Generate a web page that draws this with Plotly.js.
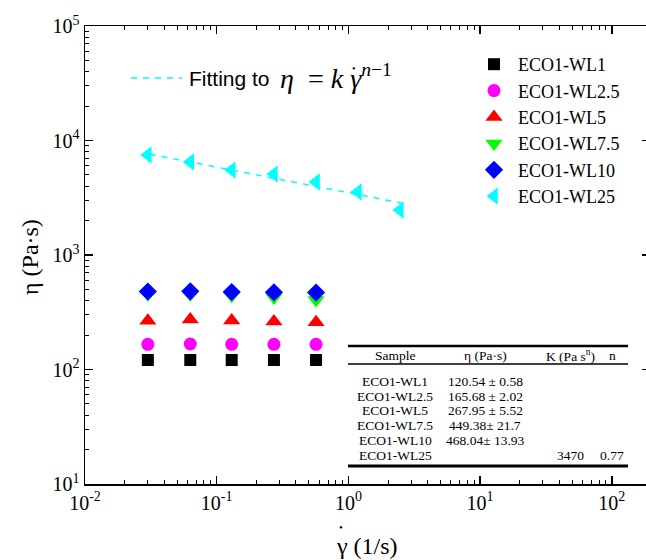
<!DOCTYPE html>
<html><head><meta charset="utf-8">
<script src="https://cdn.plot.ly/plotly-3.0.1.min.js"></script>
<style>html,body{margin:0;padding:0;overflow:hidden;background:#fff}</style>
</head><body><div id="chart" style="width:660px;height:560px"></div>
<script>
// ---- data ----
const seriesNames = ["ECO1-WL1", "ECO1-WL2.5", "ECO1-WL5", "ECO1-WL7.5", "ECO1-WL10", "ECO1-WL25"];
const shearRate = [0.030, 0.063, 0.130, 0.272, 0.568];
const shearRateWL25 = [0.030, 0.063, 0.130, 0.272, 0.568, 1.18, 2.46];
const etaWL1 = [121, 121, 121, 121, 121];
const etaWL2_5 = [166, 167, 166, 166, 166];
const etaWL5 = [267, 273, 268, 262, 259];
const etaWL7_5 = [455, 452, 440, 425, 405];
const etaWL10 = [480, 482, 475, 473, 470];
const etaWL25 = [7470, 6490, 5520, 5090, 4340, 3550, 2470];
const fitX = [0.031, 2.8];
const fitY = [7600, 2780];

const xTickVals = [0.01, 0.1, 1, 10, 100];
const xTickText = ["10<sup>-2</sup>", "10<sup>-1</sup>", "10<sup>0</sup>", "10<sup>1</sup>", "10<sup>2</sup>"];
const yTickVals = [10, 100, 1000, 10000, 100000];
const yTickText = ["10<sup>1</sup>", "10<sup>2</sup>", "10<sup>3</sup>", "10<sup>4</sup>", "10<sup>5</sup>"];

const tableHeader = ["Sample", "η (Pa·s)", "K (Pa s<sup>n</sup>)", "n"];
const tableSample = ["ECO1-WL1", "ECO1-WL2.5", "ECO1-WL5", "ECO1-WL7.5", "ECO1-WL10", "ECO1-WL25"];
const tableEta = ["120.54 ± 0.58", "165.68 ± 2.02", "267.95 ± 5.52", "449.38± 21.7", "468.04± 13.93", ""];
const tableK = ["", "", "", "", "", "3470"];
const tableN = ["", "", "", "", "", "0.77"];

// ---- layout helpers (pixel -> paper) ----
const L = 85, R = 650, T = 26, B = 484;
const px = x => (x - L) / (R - L);
const py = y => (B - y) / (B - T);
const SERIF = "Liberation Serif, Times New Roman, serif";

function minorVals(lo, hi) {
  const v = [];
  for (let e = lo; e < hi; e++) for (let m = 2; m <= 9; m++) v.push(m * Math.pow(10, e));
  return v;
}

const markerStyles = [
  {symbol: "square", color: "#000000", size: 12},
  {symbol: "circle", color: "#ff00ff", size: 13},
  {symbol: "triangle-up", color: "#ff0000", size: 15},
  {symbol: "triangle-down", color: "#00ff00", size: 15},
  {symbol: "diamond", color: "#0000ff", size: 14},
  {symbol: "triangle-left", color: "#00ffff", size: 15}
];
const ys = [etaWL1, etaWL2_5, etaWL5, etaWL7_5, etaWL10, etaWL25];

const traces = [{
  x: fitX, y: fitY, mode: "lines", showlegend: false,
  line: {color: "#00ffff", width: 1.5, dash: "6px,6px"}, hoverinfo: "skip"
}];
ys.forEach((y, i) => {
  traces.push({
    x: i === 5 ? shearRateWL25 : shearRate, y: y, mode: "markers", name: seriesNames[i],
    marker: {symbol: markerStyles[i].symbol, color: markerStyles[i].color, size: markerStyles[i].size, line: {width: 0}}
  });
});

const annotations = [];
function addText(x, y, text, font, extra) {
  annotations.push(Object.assign({xref: "paper", yref: "paper", x: px(x), y: py(y), text: text,
    xanchor: "center", yanchor: "middle", showarrow: false, font: font}, extra || {}));
}
// axis titles
addText(30, 257, "η (Pa·s)", {family: SERIF, size: 24, color: "#000"}, {textangle: -90});
addText(367, 546, "γ (1/s)", {family: SERIF, size: 24, color: "#000"});
addText(341, 527, "•", {family: SERIF, size: 11, color: "#000"});
// fit legend text
addText(187, 78, "Fitting to", {family: "Liberation Sans, Arial, sans-serif", size: 21, color: "#000"}, {xanchor: "left"});
addText(278, 76,
  "<i>η</i>&nbsp;&nbsp;=&nbsp;<i>k</i>&nbsp;<i>γ</i><sup><i>n</i>−1</sup>",
  {family: SERIF, size: 28, color: "#000"}, {xanchor: "left"});
addText(354, 68, "•", {family: SERIF, size: 10, color: "#000"});
// table
const colX = [395, 485, 570, 612];
const headerY = 355;
const rowY = [381, 396, 410, 425, 440, 455];
const tfont = {family: SERIF, size: 13.5, color: "#000"};
tableHeader.forEach((h, j) => addText(colX[j], headerY, h, tfont));
[tableSample, tableEta, tableK, tableN].forEach((col, j) => col.forEach((t, r) => {
  if (t) addText(colX[j], rowY[r], t, tfont);
}));

const shapes = [
  {type: "line", xref: "paper", yref: "paper", x0: px(131), x1: px(182), y0: py(78), y1: py(78),
    line: {color: "#00ffff", width: 1.5, dash: "6px,6px"}},
  {type: "line", xref: "paper", yref: "paper", x0: px(348), x1: px(628), y0: py(346), y1: py(346), line: {color: "#000", width: 2.5}},
  {type: "line", xref: "paper", yref: "paper", x0: px(348), x1: px(628), y0: py(364), y1: py(364), line: {color: "#000", width: 1.5}},
  {type: "line", xref: "paper", yref: "paper", x0: px(348), x1: px(628), y0: py(466), y1: py(466), line: {color: "#000", width: 3}}
];

const axisCommon = {
  type: "log", showgrid: false, zeroline: false, showline: true, linecolor: "#000", linewidth: 1.5,
  mirror: "ticks", ticks: "inside", ticklen: 8, tickwidth: 1.5, tickcolor: "#000",
  tickmode: "array", tickfont: {family: SERIF, size: 20, color: "#000"}
};

const layout = {
  width: 660, height: 560,
  margin: {l: L, r: 660 - R, t: T, b: 560 - B},
  paper_bgcolor: "#fff", plot_bgcolor: "#fff",
  xaxis: Object.assign({}, axisCommon, {range: [-2, -2 + (R - L) / 131.7], tickvals: xTickVals, ticktext: xTickText,
    minor: {tickmode: "array", tickvals: minorVals(-2, 3), ticks: "inside", ticklen: 4, tickwidth: 1, tickcolor: "#000"}}),
  yaxis: Object.assign({}, axisCommon, {range: [1, 5], tickvals: yTickVals, ticktext: yTickText,
    minor: {tickmode: "array", tickvals: minorVals(1, 5), ticks: "inside", ticklen: 4, tickwidth: 1, tickcolor: "#000"}}),
  legend: {x: px(470), y: py(46), xanchor: "left", yanchor: "top", bgcolor: "rgba(0,0,0,0)",
    itemwidth: 38, font: {family: SERIF, size: 18, color: "#000"}, tracegroupgap: 0},
  annotations: annotations, shapes: shapes
};

Plotly.newPlot("chart", traces, layout, {displayModeBar: false, staticPlot: true});
</script></body></html>
